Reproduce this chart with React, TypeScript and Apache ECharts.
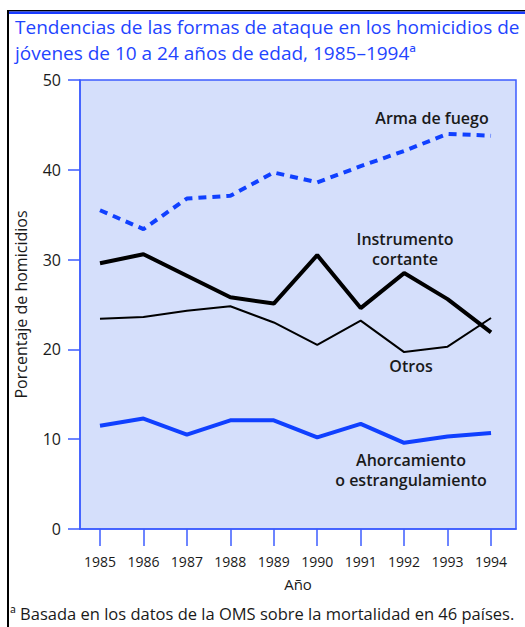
import React, { useEffect, useRef } from "react";
import * as echarts from "echarts";

const years = [1985, 1986, 1987, 1988, 1989, 1990, 1991, 1992, 1993, 1994];
const armaDeFuego = [35.5, 33.4, 36.8, 37.1, 39.7, 38.6, 40.4, 42.1, 44.0, 43.8];
const instrumentoCortante = [29.6, 30.6, 28.2, 25.8, 25.1, 30.5, 24.6, 28.5, 25.6, 21.9];
const otros = [23.4, 23.6, 24.3, 24.8, 23.0, 20.5, 23.2, 19.7, 20.3, 23.5];
const ahorcamiento = [11.5, 12.3, 10.5, 12.1, 12.1, 10.2, 11.7, 9.6, 10.3, 10.7];
const yTicks = [0, 10, 20, 30, 40, 50];

const FONT = "'Open Sans', 'DejaVu Sans', sans-serif";
const BLUE = "#1f45ff";
const AXIS = "#3c5cff";
const LABEL = "#1a1a1a";

const pairs = (vals: number[]) => years.map((y, i) => [y, vals[i]]);

export default function App() {
  const ref = useRef<HTMLDivElement>(null);
  useEffect(() => {
    if (!ref.current) return;
    const chart = echarts.init(ref.current, null, { renderer: "svg" });
    const annot = (text: string, x: number, y: number) => ({
      type: "text",
      x,
      y,
      style: {
        text,
        fill: LABEL,
        font: `600 16px ${FONT}`,
        textAlign: "center",
        textVerticalAlign: "middle",
      },
    });
    chart.setOption({
      animation: false,
      backgroundColor: "#ffffff",
      title: {
        left: 10,
        top: 9,
        text: "Tendencias de las formas de ataque en los homicidios de\njóvenes de 10 a 24 años de edad, 1985–1994ª",
        textStyle: {
          color: BLUE,
          fontFamily: FONT,
          fontSize: 19,
          fontWeight: "normal",
          lineHeight: 26,
        },
      },
      grid: {
        left: 80,
        top: 80,
        right: 9,
        bottom: 98,
        show: true,
        backgroundColor: "#d5dffb",
        borderColor: AXIS,
        borderWidth: 1.5,
      },
      xAxis: {
        type: "value",
        min: 1984.54,
        max: 1994.575,
        name: "Año",
        nameLocation: "middle",
        nameGap: 47,
        nameTextStyle: { color: LABEL, fontFamily: FONT, fontSize: 15 },
        axisLine: { show: true, lineStyle: { color: AXIS, width: 1.5 } },
        axisTick: { show: true, inside: false, length: 17, customValues: years, lineStyle: { color: AXIS, width: 1.5 } },
        axisLabel: { customValues: years, color: LABEL, fontFamily: FONT, fontSize: 14, margin: 25, formatter: (v: number) => String(v) },
        splitLine: { show: false },
      },
      yAxis: {
        type: "value",
        min: 0,
        max: 50,
        interval: 10,
        name: "Porcentaje de homicidios",
        nameLocation: "middle",
        nameGap: 51,
        nameTextStyle: { color: LABEL, fontFamily: FONT, fontSize: 16 },
        axisLine: { show: true, lineStyle: { color: AXIS, width: 1.5 } },
        axisTick: { show: true, inside: false, length: 12, lineStyle: { color: AXIS, width: 1.5 } },
        axisLabel: { color: LABEL, fontFamily: FONT, fontSize: 16, margin: 19, formatter: (v: number) => (yTicks.includes(v) ? String(v) : "") },
        splitLine: { show: false },
      },
      series: [
        {
          name: "Arma de fuego",
          type: "line",
          data: pairs(armaDeFuego),
          symbol: "none",
          lineStyle: { color: "#1040ff", width: 4, type: [8, 6] },
        },
        {
          name: "Instrumento cortante",
          type: "line",
          data: pairs(instrumentoCortante),
          symbol: "none",
          lineStyle: { color: "#000000", width: 4 },
        },
        {
          name: "Otros",
          type: "line",
          data: pairs(otros),
          symbol: "none",
          lineStyle: { color: "#000000", width: 2 },
        },
        {
          name: "Ahorcamiento o estrangulamiento",
          type: "line",
          data: pairs(ahorcamiento),
          symbol: "none",
          lineStyle: { color: "#1040ff", width: 4 },
        },
      ],
      graphic: [
        { type: "rect", shape: { x: 7, y: 10, width: 518, height: 1.5 }, style: { fill: "#000" }, silent: true },
        { type: "rect", shape: { x: 7, y: 11.5, width: 518, height: 2.5 }, style: { fill: "#1a3cff" }, silent: true },
        { type: "rect", shape: { x: 7, y: 10, width: 2, height: 617 }, style: { fill: "#000" }, silent: true },
        annot("Arma de fuego", 432, 118),
        annot("Instrumento", 405, 239),
        annot("cortante", 405, 259),
        annot("Otros", 411, 366),
        annot("Ahorcamiento", 411, 460),
        annot("o estrangulamiento", 411, 480),
        {
          type: "text",
          x: 10,
          y: 613,
          style: {
            text: "ª Basada en los datos de la OMS sobre la mortalidad en 46 países.",
            fill: LABEL,
            font: `16.5px ${FONT}`,
            textVerticalAlign: "middle",
          },
        },
      ],
    });
    return () => chart.dispose();
  }, []);
  return <div ref={ref} style={{ position: "fixed", left: 0, top: 0, width: 525, height: 627 }} />;
}
